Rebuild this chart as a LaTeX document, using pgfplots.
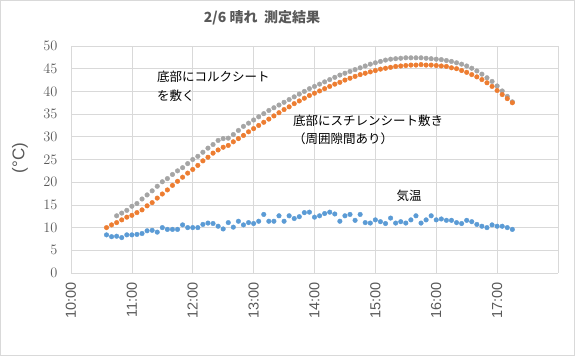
\documentclass[border=0pt]{standalone}
\usepackage{fontspec}
\setmainfont{Liberation Sans}
\newfontfamily\jp{Noto Sans CJK JP}
\usepackage{pgfplots}
\pgfplotsset{compat=1.18}
\definecolor{frame}{HTML}{D9D9D9}
\definecolor{gridc}{HTML}{D9D9D9}
\definecolor{tickc}{HTML}{595959}
\definecolor{sblue}{HTML}{5B9BD5}
\definecolor{sorange}{HTML}{ED7D31}
\definecolor{sgray}{HTML}{A5A5A5}
\begin{document}
\begin{tikzpicture}[x=1pt,y=1pt]
\draw[draw=frame, line width=0.8pt] (0.4,0.4) rectangle (574.6,355.6);
\begin{axis}[at={(71pt,83pt)}, anchor=south west, scale only axis,
  width=487pt, height=227pt,
  xmin=0, xmax=480, ymin=0, ymax=50,
  xtick={0,60,...,480},
  xticklabels={10:00,11:00,12:00,13:00,14:00,15:00,16:00,17:00,{}},
  ytick={0,5,...,50},
  grid=major, grid style={draw=gridc, line width=0.7pt},
  axis line style={draw=none},
  tick style={draw=none},
  ticklabel style={font=\fontsize{14.5}{14.5}\selectfont, text=tickc},
  x tick label style={rotate=90, anchor=east},
  xticklabel shift=6pt,
  yticklabel shift=10pt,
  mark size=2.3pt,
  clip=false]
\addplot[only marks, mark=*, color=sgray] table {
x y
45 12.6
50 13.2
55 13.8
60 14.7
65 15.3
70 16.3
75 17.2
80 18.1
85 19.1
90 20.1
95 20.8
100 21.7
105 22.5
110 23.2
115 24.1
120 25.0
125 25.7
130 26.6
135 27.5
140 28.3
145 29.2
150 29.6
155 29.7
160 30.5
165 31.4
170 32.3
175 33.0
180 33.7
185 34.4
190 35.1
195 35.8
200 36.4
205 37.0
210 37.6
215 38.2
220 38.8
225 39.4
230 40.0
235 40.6
240 41.1
245 41.6
250 42.1
255 42.6
260 43.1
265 43.6
270 44.0
275 44.4
280 44.8
285 45.2
290 45.6
295 46.0
300 46.3
305 46.6
310 46.9
315 47.1
320 47.2
325 47.3
330 47.4
335 47.4
340 47.4
345 47.4
350 47.3
355 47.2
360 47.1
365 47.0
370 46.8
375 46.6
380 46.3
385 46.0
390 45.6
395 45.1
400 44.5
405 43.8
410 43.0
415 42.2
420 41.2
425 40.1
430 38.9
435 37.7
};
\addplot[only marks, mark=*, color=sorange] table {
x y
35 10.0
40 10.6
45 11.1
50 11.7
55 12.3
60 12.7
65 13.3
70 13.9
75 14.8
80 15.5
85 16.5
90 17.4
95 18.3
100 19.3
105 20.2
110 21.1
115 22.0
120 22.8
125 23.7
130 24.7
135 25.5
140 26.4
145 27.1
150 27.7
155 28.1
160 28.9
165 29.6
170 30.3
175 31.1
180 31.8
185 32.5
190 33.2
195 33.9
200 34.6
205 35.3
210 36.0
215 36.6
220 37.3
225 37.9
230 38.5
235 39.1
240 39.6
245 40.1
250 40.6
255 41.1
260 41.6
265 42.0
270 42.5
275 42.9
280 43.3
285 43.7
290 44.0
295 44.3
300 44.6
305 44.9
310 45.1
315 45.3
320 45.5
325 45.6
330 45.7
335 45.8
340 45.8
345 45.9
350 45.8
355 45.8
360 45.7
365 45.6
370 45.5
375 45.2
380 45.0
385 44.6
390 44.2
395 43.7
400 43.2
405 42.6
410 41.9
415 41.1
420 40.2
425 39.3
430 38.4
435 37.5
};
\addplot[only marks, mark=*, color=sblue] table {
x y
35 8.4
40 8.0
45 8.1
50 7.8
55 8.4
60 8.4
65 8.5
70 8.7
75 9.3
80 9.4
85 9.0
90 10.0
95 9.6
100 9.6
105 9.6
110 10.6
115 10.0
120 10.0
125 10.0
130 10.7
135 11.0
140 10.9
145 10.3
150 9.7
155 11.1
160 10.1
165 11.4
170 10.6
175 11.1
180 10.9
185 11.4
190 12.9
195 11.4
200 11.4
205 12.6
210 11.4
215 12.6
220 12.0
225 12.4
230 13.3
235 13.4
240 12.3
245 12.6
250 13.1
255 13.4
260 13.0
265 11.4
270 12.6
275 12.9
280 11.6
285 12.9
290 11.1
295 11.0
300 11.7
305 11.3
310 10.9
315 12.1
320 11.0
325 11.3
330 11.0
335 11.7
340 12.6
345 11.0
350 11.7
355 12.6
360 11.7
365 11.9
370 11.6
375 11.6
380 11.1
385 10.9
390 11.6
395 11.3
400 10.7
405 10.3
410 10.0
415 10.6
420 10.3
425 10.3
430 10.0
435 9.6
};
\end{axis}
\node[font=\jp\bfseries\fontsize{14}{14}\selectfont, text=tickc] at (262,338) {2/6 晴れ\ \ 測定結果};
\node[font=\fontsize{17}{17}\selectfont, text=tickc, rotate=90] at (20,198) {(°C)};
\node[font=\jp\fontsize{12.5}{12.5}\selectfont, anchor=west, inner sep=0pt] at (157,279) {底部にコルクシート};
\node[font=\jp\fontsize{12.5}{12.5}\selectfont, anchor=west, inner sep=0pt] at (157,260) {を敷く};
\node[font=\jp\fontsize{12.5}{12.5}\selectfont, anchor=west, inner sep=0pt] at (293,235) {底部にスチレンシート敷き};
\node[font=\jp\fontsize{12.5}{12.5}\selectfont, anchor=west, inner sep=0pt] at (293,217) {（周囲隙間あり）};
\node[font=\jp\fontsize{12.5}{12.5}\selectfont, inner sep=0pt] at (409,160) {気温};
\end{tikzpicture}
\end{document}
